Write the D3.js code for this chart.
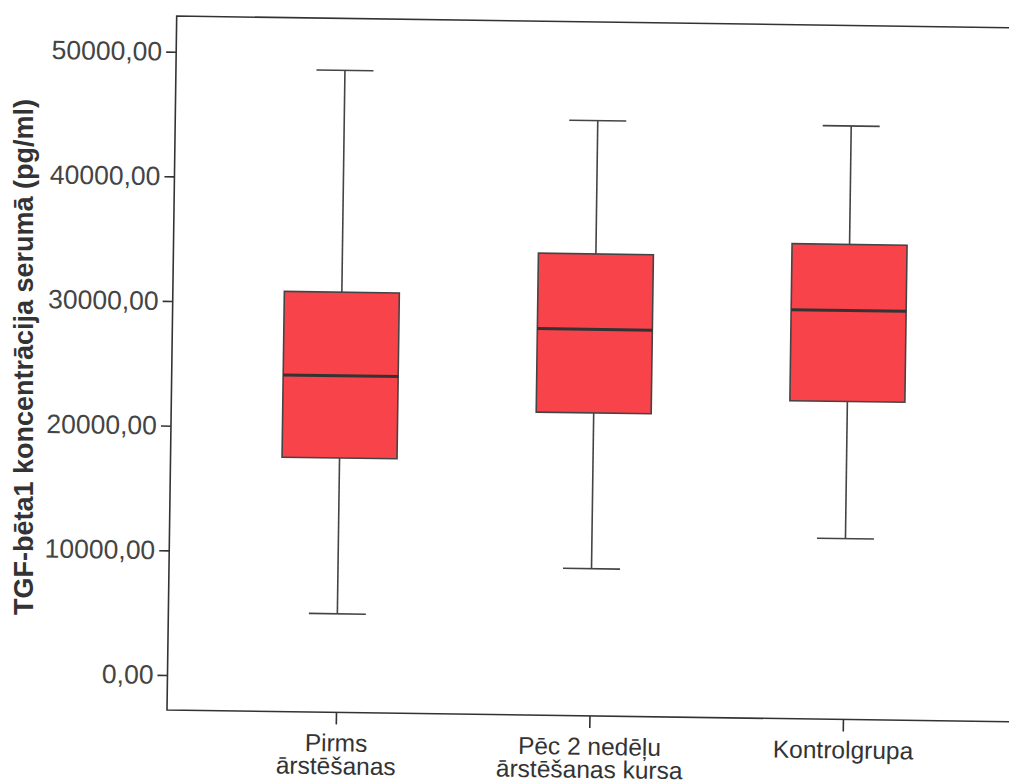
<!DOCTYPE html>
<head>
  <meta charset="utf-8">
  <script src="https://d3js.org/d3.v7.min.js"></script>
  <style>
    body { margin: 0; background: #fff; }
    svg { display: block; font-family: "Liberation Sans", Arial, sans-serif; }
  </style>
</head>
<body>
  <svg width="1009" height="784"></svg>
  <script>
    // groups and their box plot statistics (pg/ml)
    var groups = ['Pirms|ārstēšanas', 'Pēc 2 nedēļu|ārstēšanas kursa', 'Kontrolgrupa'];
    var whiskerLow = [5100, 9000, 11700];
    var q1 = [17600, 21500, 22700];
    var median = [24200, 28200, 30000];
    var q3 = [30900, 34250, 35300];
    var whiskerHigh = [48700, 44950, 44800];
    var yTicks = [0, 10000, 20000, 30000, 40000, 50000];

    var plotLeft = 167, plotBottom = 710, plotTop = 16, plotRight = 1040;

    var svg = d3.select('svg');
    // the scanned page is a little tilted
    var g = svg.append('g').attr('transform', 'rotate(0.8,' + plotLeft + ',' + plotBottom + ')');

    var y = d3.scaleLinear().domain([0, 50000]).range([675, 51.7]);
    var x = d3.scalePoint().domain(groups).range([336, 843]);

    var boxW = 115, capW = 57;
    var data = groups.map(function (c, i) {
      return { name: c, lo: whiskerLow[i], q1: q1[i], med: median[i], q3: q3[i], hi: whiskerHigh[i] };
    });

    // frame
    g.append('path')
      .attr('d', 'M' + plotRight + ',' + plotTop + 'H' + plotLeft + 'V' + plotBottom + 'H' + plotRight)
      .attr('fill', 'none').attr('stroke', '#333').attr('stroke-width', 1.6);

    // y axis
    var yAxis = g.append('g')
      .attr('transform', 'translate(' + plotLeft + ',0)')
      .call(d3.axisLeft(y).tickValues(yTicks).tickSize(10).tickPadding(4)
        .tickFormat(function (d) { return d3.format('.2f')(d).replace('.', ','); }));
    yAxis.select('.domain').remove();
    yAxis.selectAll('line').attr('stroke', '#333').attr('stroke-width', 1.6);
    yAxis.selectAll('text').attr('font-size', 26.5).attr('fill', '#444')
      .attr('font-family', '"Liberation Sans", Arial, sans-serif');

    // x axis
    var xAxis = g.append('g')
      .attr('transform', 'translate(0,' + plotBottom + ')')
      .call(d3.axisBottom(x).tickSize(12).tickFormat(''));
    xAxis.select('.domain').remove();
    xAxis.selectAll('line').attr('stroke', '#333').attr('stroke-width', 1.6);
    xAxis.selectAll('.tick').each(function (d) {
      var tick = d3.select(this);
      d.split('|').forEach(function (line, k) {
        tick.append('text')
          .attr('text-anchor', 'middle').attr('fill', '#333')
          .attr('font-size', 24.5)
          .attr('y', 39 + k * 23)
          .text(line);
      });
    });

    // boxes
    var box = g.selectAll('.box').data(data).enter().append('g')
      .attr('class', 'box')
      .attr('transform', function (d) { return 'translate(' + x(d.name) + ',0)'; });

    box.append('line')
      .attr('y1', function (d) { return y(d.hi); })
      .attr('y2', function (d) { return y(d.q3); })
      .attr('stroke', '#444').attr('stroke-width', 1.6);
    box.append('line')
      .attr('y1', function (d) { return y(d.q1); })
      .attr('y2', function (d) { return y(d.lo); })
      .attr('stroke', '#444').attr('stroke-width', 1.6);
    box.append('line')
      .attr('x1', -capW / 2).attr('x2', capW / 2)
      .attr('y1', function (d) { return y(d.hi); })
      .attr('y2', function (d) { return y(d.hi); })
      .attr('stroke', '#444').attr('stroke-width', 1.6);
    box.append('line')
      .attr('x1', -capW / 2).attr('x2', capW / 2)
      .attr('y1', function (d) { return y(d.lo); })
      .attr('y2', function (d) { return y(d.lo); })
      .attr('stroke', '#444').attr('stroke-width', 1.6);
    box.append('rect')
      .attr('x', -boxW / 2).attr('width', boxW)
      .attr('y', function (d) { return y(d.q3); })
      .attr('height', function (d) { return y(d.q1) - y(d.q3); })
      .attr('fill', '#f8434b').attr('stroke', '#444').attr('stroke-width', 1.6);
    box.append('line')
      .attr('x1', -boxW / 2).attr('x2', boxW / 2)
      .attr('y1', function (d) { return y(d.med); })
      .attr('y2', function (d) { return y(d.med); })
      .attr('stroke', '#333').attr('stroke-width', 3);

    // y axis title
    svg.append('text')
      .attr('transform', 'translate(33,357) rotate(-90)')
      .attr('text-anchor', 'middle').attr('fill', '#333')
      .attr('font-size', 27).attr('font-weight', 'bold')
      .text('TGF-bēta1 koncentrācija serumā (pg/ml)');
  </script>
</body>
